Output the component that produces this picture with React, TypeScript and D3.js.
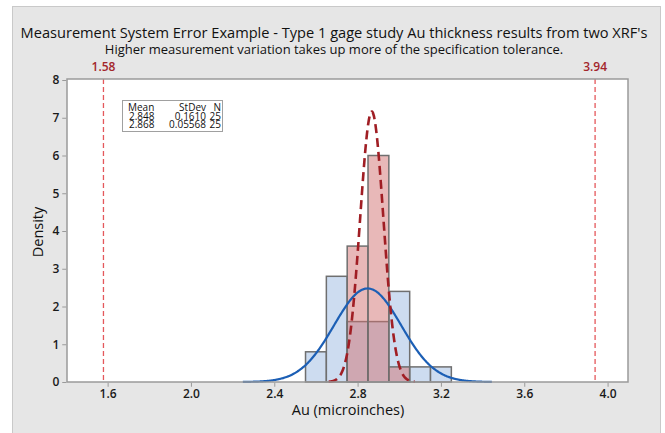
import { useEffect, useRef } from "react";
import * as d3 from "d3";

// bin centers (bin width 0.1)
const binCenters = [2.6, 2.7, 2.8, 2.9, 3.0, 3.1, 3.2];
const binWidth = 0.1;
// densities
const xrf1Density = [0.8, 2.8, 1.6, 1.6, 2.4, 0.4, 0.4];
const xrf2Density = [0, 0, 3.6, 6.0, 0.4, 0, 0];

const means = [2.848, 2.868];
const stdevs = [0.161, 0.05568];
const counts = [25, 25];
const meanLabels = ["2.848", "2.868"];
const stdevLabels = ["0.1610", "0.05568"];

const xTicks = [1.6, 2.0, 2.4, 2.8, 3.2, 3.6, 4.0];
const yTicks = [0, 1, 2, 3, 4, 5, 6, 7, 8];
const specLimits = [1.58, 3.94];

const FONT = "'Open Sans', 'Noto Sans', sans-serif";

export default function App() {
    const svgRef = useRef<SVGSVGElement>(null);

    useEffect(() => {
        if (!svgRef.current) return;
        const width = 665;
        const height = 433;
        const svg = d3.select(svgRef.current);
        svg.selectAll("*").remove();

        const left = 67, right = 628, top = 79, bottom = 382;

        const x = d3.scaleLinear().domain([1.405, 4.098]).range([left, right]);
        const y = d3.scaleLinear().domain([0, 8.0]).range([bottom, 80]);

        // outer panel
        svg.append("rect").attr("width", width).attr("height", height).attr("fill", "white");
        svg.append("rect")
            .attr("x", 12.5).attr("y", 6.5)
            .attr("width", 648).attr("height", 440)
            .attr("fill", "#e6e6e6")
            .attr("stroke", "#c9c9c9");

        // plot area
        svg.append("rect")
            .attr("x", left).attr("y", top)
            .attr("width", right - left).attr("height", bottom - top)
            .attr("fill", "white");

        // spec limits
        specLimits.forEach((s) => {
            svg.append("line")
                .attr("x1", x(s)).attr("x2", x(s))
                .attr("y1", top).attr("y2", bottom)
                .attr("stroke", "#e4585c")
                .attr("stroke-width", 1.3)
                .attr("stroke-dasharray", "5,3");
            svg.append("text")
                .attr("x", x(s)).attr("y", 71)
                .attr("text-anchor", "middle")
                .style("font-family", FONT)
                .style("font-size", "12px")
                .style("font-weight", 600)
                .style("fill", "#a3252b")
                .text(s.toFixed(2));
        });

        const bars = (dens: number[], fill: string, opacity: number) => {
            svg.append("g")
                .selectAll("rect")
                .data(binCenters.map((c, i) => ({ c, d: dens[i] })).filter((b) => b.d > 0))
                .enter()
                .append("rect")
                .attr("x", (b) => x(b.c - binWidth / 2))
                .attr("width", (b) => x(b.c + binWidth / 2) - x(b.c - binWidth / 2))
                .attr("y", (b) => y(b.d))
                .attr("height", (b) => y(0) - y(b.d))
                .attr("fill", fill)
                .attr("fill-opacity", opacity)
                .attr("stroke", "#6f6f6f")
                .attr("stroke-width", 1.5);
        };
        bars(xrf1Density, "#cddcf0", 1);
        bars(xrf2Density, "#d17171", 0.5);

        // fitted normal curves
        const pdf = (v: number, m: number, s: number) =>
            Math.exp(-0.5 * ((v - m) / s) ** 2) / (s * Math.sqrt(2 * Math.PI));
        const line = d3.line<number[]>().x((d) => x(d[0])).y((d) => y(d[1])).curve(d3.curveBasis);
        const curveStyles = [
            { color: "#1c5fb5", dash: null, w: 2.2 },
            { color: "#a01e24", dash: "9,5", w: 2.6 },
        ];
        means.forEach((m, i) => {
            const s = stdevs[i];
            const pts = d3.range(m - 3.72 * s, m + 3.72 * s, s / 40).map((v) => [v, pdf(v, m, s)]);
            const p = svg.append("path")
                .attr("d", line(pts))
                .attr("fill", "none")
                .attr("stroke", curveStyles[i].color)
                .attr("stroke-width", curveStyles[i].w);
            if (curveStyles[i].dash) p.attr("stroke-dasharray", curveStyles[i].dash);
        });

        // frame
        svg.append("rect")
            .attr("x", left).attr("y", top)
            .attr("width", right - left).attr("height", bottom - top)
            .attr("fill", "none")
            .attr("stroke", "#9a9a9a")
            .attr("stroke-width", 1.5);

        // axes
        const xAxis = svg.append("g")
            .attr("transform", `translate(0,${bottom + 0.75})`)
            .call(d3.axisBottom(x).tickValues(xTicks).tickFormat(d3.format(".1f")).tickSize(4).tickPadding(3));
        const yAxis = svg.append("g")
            .attr("transform", `translate(${left - 0.75},0)`)
            .call(d3.axisLeft(y).tickValues(yTicks).tickFormat(d3.format("d")).tickSize(4).tickPadding(3));
        [xAxis, yAxis].forEach((a) => {
            a.select(".domain").remove();
            a.selectAll("line").attr("stroke", "#9a9a9a");
            a.selectAll("text")
                .style("font-family", FONT)
                .style("font-size", "12px")
                .style("font-weight", 600)
                .style("fill", "#1a1a1a");
        });

        // titles
        svg.append("text")
            .attr("x", 334).attr("y", 38)
            .attr("text-anchor", "middle")
            .style("font-family", FONT)
            .style("font-size", "14.6px")
            .style("font-weight", 500)
            .style("fill", "#111")
            .text("Measurement System Error Example - Type 1 gage study Au thickness results from two XRF's");
        svg.append("text")
            .attr("x", 334).attr("y", 54)
            .attr("text-anchor", "middle")
            .style("font-family", FONT)
            .style("font-size", "13px")
            .style("font-weight", 500)
            .style("fill", "#111")
            .text("Higher measurement variation takes up more of the specification tolerance.");

        svg.append("text")
            .attr("x", 348).attr("y", 415)
            .attr("text-anchor", "middle")
            .style("font-family", FONT)
            .style("font-size", "14.5px")
            .style("font-weight", 500)
            .style("fill", "#111")
            .text("Au (microinches)");
        svg.append("text")
            .attr("transform", "translate(43,232) rotate(-90)")
            .attr("text-anchor", "middle")
            .style("font-family", FONT)
            .style("font-size", "14.5px")
            .style("font-weight", 500)
            .style("fill", "#111")
            .text("Density");

        // stats table
        const lg = svg.append("g")
            .style("font-family", FONT)
            .style("font-size", "10px")
            .style("font-weight", 500)
            .style("fill", "#111");
        lg.append("rect")
            .attr("x", 122.5).attr("y", 100.5)
            .attr("width", 100).attr("height", 31)
            .attr("fill", "white")
            .attr("stroke", "#a0a0a0");
        const rowY = [111.2, 119.5, 127.8];
        lg.append("text").attr("x", 128).attr("y", rowY[0]).text("Mean");
        lg.append("text").attr("x", 206).attr("y", rowY[0]).attr("text-anchor", "end").text("StDev");
        lg.append("text").attr("x", 221).attr("y", rowY[0]).attr("text-anchor", "end").text("N");
        means.forEach((_, i) => {
            lg.append("text").attr("x", 129).attr("y", rowY[i + 1]).text(meanLabels[i]);
            lg.append("text").attr("x", 206).attr("y", rowY[i + 1]).attr("text-anchor", "end").text(stdevLabels[i]);
            lg.append("text").attr("x", 221).attr("y", rowY[i + 1]).attr("text-anchor", "end").text(String(counts[i]));
        });
    }, []);

    return (
        <svg
            ref={svgRef}
            width={665}
            height={433}
            style={{ position: "absolute", left: 0, top: 0, display: "block" }}
        />
    );
}
